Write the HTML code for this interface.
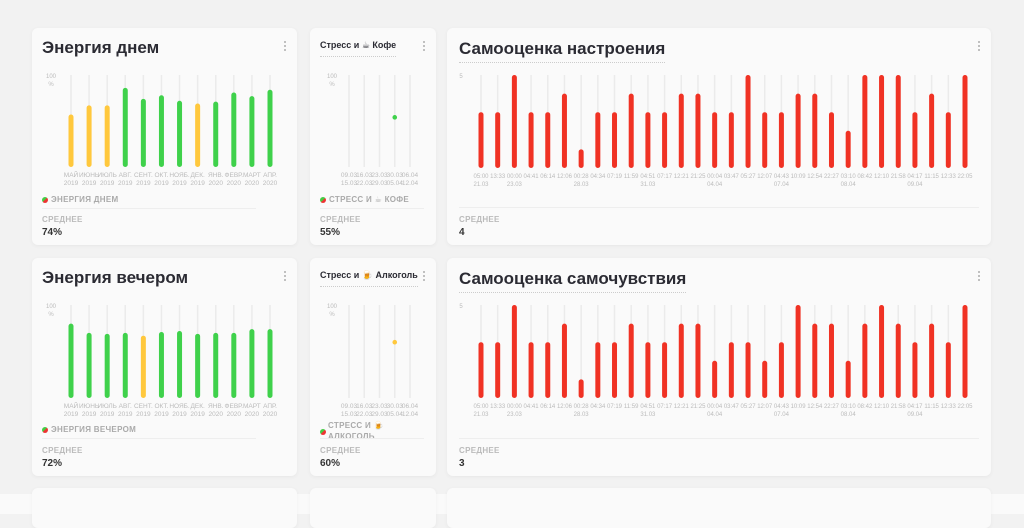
<!DOCTYPE html>
<html><head><meta charset="utf-8">
<style>
*{box-sizing:border-box;margin:0;padding:0}
body{width:1024px;height:514px;background:#f2f2f2;font-family:"Liberation Sans","DejaVu Sans",sans-serif;position:relative;overflow:hidden}
.band{position:absolute;left:0;top:494px;width:1024px;height:20px;background:#fafafa}
.card{position:absolute;background:#fafafa;border-radius:6px;box-shadow:0 1px 4px rgba(0,0,0,0.05)}
.t{position:absolute;white-space:nowrap}
.title{font-size:17px;font-weight:bold;color:#2b2b33}
.utitle{border-bottom:1px dotted #ccc;padding-bottom:3px}
.stitle{font-size:9px;font-weight:bold;color:#2b2b33;border-bottom:1px dotted #ccc;padding-bottom:5px}
.menu{position:absolute;width:2px;height:12px;background:radial-gradient(circle,#bbb 1px,transparent 1.2px) 0 0/2px 4px}
.leg{font-size:8px;font-weight:bold;color:#aaa;letter-spacing:.3px}
.dot{display:inline-block;width:6px;height:6px;border-radius:50%;background:linear-gradient(135deg,#4c4 50%,#e33 50%);margin-right:3px;vertical-align:middle}
.div{position:absolute;height:1px;background:#eee}
.avg{font-size:8px;font-weight:bold;color:#bbb;letter-spacing:.3px}
.val{font-size:10px;font-weight:bold;color:#333}
svg{position:absolute;left:0;top:0}
</style></head><body>
<div class="band"></div>

<!-- Row 1 -->
<div class="card" style="left:32px;top:28px;width:265px;height:217px"></div>
<div class="card" style="left:310px;top:28px;width:126px;height:217px"></div>
<div class="card" style="left:447px;top:28px;width:544px;height:217px"></div>
<!-- Row 2 -->
<div class="card" style="left:32px;top:258px;width:265px;height:218px"></div>
<div class="card" style="left:310px;top:258px;width:126px;height:218px"></div>
<div class="card" style="left:447px;top:258px;width:544px;height:218px"></div>
<!-- Row 3 -->
<div class="card" style="left:32px;top:488px;width:265px;height:40px"></div>
<div class="card" style="left:310px;top:488px;width:126px;height:40px"></div>
<div class="card" style="left:447px;top:488px;width:544px;height:40px"></div>

<!-- texts row1 -->
<div class="t title" style="left:42px;top:38px">Энергия днем</div>
<div class="menu" style="left:284px;top:40px"></div>
<div class="t stitle" style="left:320px;top:40px">Стресс и ☕ Кофе</div>
<div class="menu" style="left:423px;top:40px"></div>
<div class="t title utitle" style="left:459px;top:39px">Самооценка настроения</div>
<div class="menu" style="left:978px;top:40px"></div>

<div class="t leg" style="left:42px;top:195px"><span class="dot"></span>ЭНЕРГИЯ ДНЕМ</div>
<div class="div" style="left:42px;top:208px;width:214px"></div>
<div class="t avg" style="left:42px;top:215px">СРЕДНЕЕ</div>
<div class="t val" style="left:42px;top:227px">74%</div>

<div class="t leg" style="left:320px;top:195px"><span class="dot"></span>СТРЕСС И ☕ КОФЕ</div>
<div class="div" style="left:320px;top:208px;width:104px"></div>
<div class="t avg" style="left:320px;top:215px">СРЕДНЕЕ</div>
<div class="t val" style="left:320px;top:227px">55%</div>

<div class="div" style="left:459px;top:207px;width:520px"></div>
<div class="t avg" style="left:459px;top:215px">СРЕДНЕЕ</div>
<div class="t val" style="left:459px;top:227px">4</div>

<!-- texts row2 -->
<div class="t title" style="left:42px;top:268px">Энергия вечером</div>
<div class="menu" style="left:284px;top:270px"></div>
<div class="t stitle" style="left:320px;top:270px">Стресс и 🍺 Алкоголь</div>
<div class="menu" style="left:423px;top:270px"></div>
<div class="t title utitle" style="left:459px;top:269px">Самооценка самочувствия</div>
<div class="menu" style="left:978px;top:270px"></div>

<div class="t leg" style="left:42px;top:425px"><span class="dot"></span>ЭНЕРГИЯ ВЕЧЕРОМ</div>
<div class="div" style="left:42px;top:438px;width:214px"></div>
<div class="t avg" style="left:42px;top:446px">СРЕДНЕЕ</div>
<div class="t val" style="left:42px;top:458px">72%</div>

<div class="t leg" style="left:320px;top:420px;line-height:11px"><span class="dot" style="position:absolute;left:0;top:9px"></span><span style="margin-left:8px">СТРЕСС И 🍺</span><br><span style="margin-left:8px">АЛКОГОЛЬ</span></div>
<div class="div" style="left:320px;top:438px;width:104px"></div>
<div class="t avg" style="left:320px;top:446px">СРЕДНЕЕ</div>
<div class="t val" style="left:320px;top:458px">60%</div>

<div class="div" style="left:459px;top:438px;width:520px"></div>
<div class="t avg" style="left:459px;top:446px">СРЕДНЕЕ</div>
<div class="t val" style="left:459px;top:458px">3</div>

<svg id="charts" width="1024" height="514"></svg>

<script>
const monthLabels1 = ["МАЙ","ИЮНЬ","ИЮЛЬ","АВГ.","СЕНТ.","ОКТ.","НОЯБ.","ДЕК.","ЯНВ.","ФЕВР.","МАРТ","АПР."];
const monthLabels2 = ["2019","2019","2019","2019","2019","2019","2019","2019","2020","2020","2020","2020"];
const energyDay = [57,67,67,86,74,78,72,69,71,81,77,84];
const energyEvening = [80,70,69,70,67,71,72,69,70,70,74,74];
const weekLabels1 = ["09.03","16.03","23.03","30.03","06.04"];
const weekLabels2 = ["15.03","22.03","29.03","05.04","12.04"];
const stressCoffee = [null,null,null,54,null];
const stressAlcohol = [null,null,null,60,null];
const timeLabels = ["05:00","13:33","00:00","04:41","06:14","12:06","00:28","04:34","07:19","11:59","04:51","07:17","12:21","21:25","00:04","03:47","05:27","12:07","04:43","10:09","12:54","22:27","03:10","08:42","12:10","21:58","04:17","11:15","12:33","22:05"];
const dateLabels = ["21.03","","23.03","","","","28.03","","","","31.03","","","","04.04","","","","07.04","","","","08.04","","","","09.04","","",""];
const moodValues = [3,3,5,3,3,4,1,3,3,4,3,3,4,4,3,3,5,3,3,4,4,3,2,5,5,5,3,4,3,5];
const wellValues = [3,3,5,3,3,4,1,3,3,4,3,3,4,4,2,3,3,2,3,5,4,4,2,4,5,4,3,4,3,5];

const svg = document.getElementById('charts');
const NS = 'http://www.w3.org/2000/svg';
function mk(tag, attrs, parent){const e=document.createElementNS(NS,tag);for(const k in attrs)e.setAttribute(k,attrs[k]);(parent||svg).appendChild(e);return e;}
function txt(x,y,s,size,anchor,fill){const e=mk('text',{x:x,y:y,'font-size':size,'text-anchor':anchor||'middle',fill:fill||'#bbb','font-family':'Liberation Sans, sans-serif'});e.textContent=s;return e;}

function barChart(name, x0, x1, top, bottom, maxV, vals, l1, l2, colorFn, bw, yLabel){
  const n = vals.length;
  const xs = i => x0 + (x1-x0)*i/(n-1);
  const ys = v => bottom - (bottom-top)*v/maxV;
  const g = mk('g',{});
  
  
  for(let i=0;i<n;i++){
    const gl = mk('line',{x1:xs(i),x2:xs(i),y1:top,y2:bottom,stroke:'#ebebeb','stroke-width':1.5},g);
    
    
    if(vals[i]!=null){
      const b = mk('rect',{x:xs(i)-bw/2,y:ys(vals[i]),width:bw,height:bottom-ys(vals[i]),rx:bw/2,fill:colorFn(vals[i])},g);
      
      
    }
    const a = txt(xs(i),bottom+10,l1[i],l1===timeLabels?6:6.5); g.appendChild(a);
    
    
    if(l2[i]){const b2 = txt(xs(i),bottom+18,l2[i],l1===timeLabels?6:6.5); g.appendChild(b2);
      
      }
  }
  yLabel.forEach((s,k)=>{const t=txt(x0-20,top+3+k*8,s,6); g.appendChild(t);
    
    });
}
function dotChart(name, x0, x1, top, bottom, vals, color){
  const n = vals.length;
  const xs = i => x0 + (x1-x0)*i/(n-1);
  const ys = v => bottom - (bottom-top)*v/100;
  const g = mk('g',{});
  
  
  for(let i=0;i<n;i++){
    const gl = mk('line',{x1:xs(i),x2:xs(i),y1:top,y2:bottom,stroke:'#ebebeb','stroke-width':1.5},g);
    
    
    if(vals[i]!=null){
      const d = mk('circle',{cx:xs(i),cy:ys(vals[i]),r:2.3,fill:color},g);
      
      
    }
    const a = txt(xs(i),bottom+10,weekLabels1[i],6.5); g.appendChild(a);
    
    
    const b = txt(xs(i),bottom+18,weekLabels2[i],6.5); g.appendChild(b);
    
    
  }
  ['100','%'].forEach((s,k)=>{const t=txt(332,top+3+k*8,s,6); g.appendChild(t);
    
    });
}
const green='#3fd14b', yellow='#ffc83d', red='#f03224';
barChart('energy-day-chart',71,270,75,167,100,energyDay,monthLabels1,monthLabels2,v=>v<70?yellow:green,5,['100','%']);
barChart('energy-evening-chart',71,270,305,398,100,energyEvening,monthLabels1,monthLabels2,v=>v<68?yellow:green,5,['100','%']);
dotChart('stress-coffee-chart',349,410,75,167,stressCoffee,green);
dotChart('stress-alcohol-chart',349,410,305,398,stressAlcohol,yellow);
barChart('mood-chart',481,965,75,168,5,moodValues,timeLabels,dateLabels,()=>red,5,['5']);
barChart('wellbeing-chart',481,965,305,398,5,wellValues,timeLabels,dateLabels,()=>red,5,['5']);
</script>
</body></html>
